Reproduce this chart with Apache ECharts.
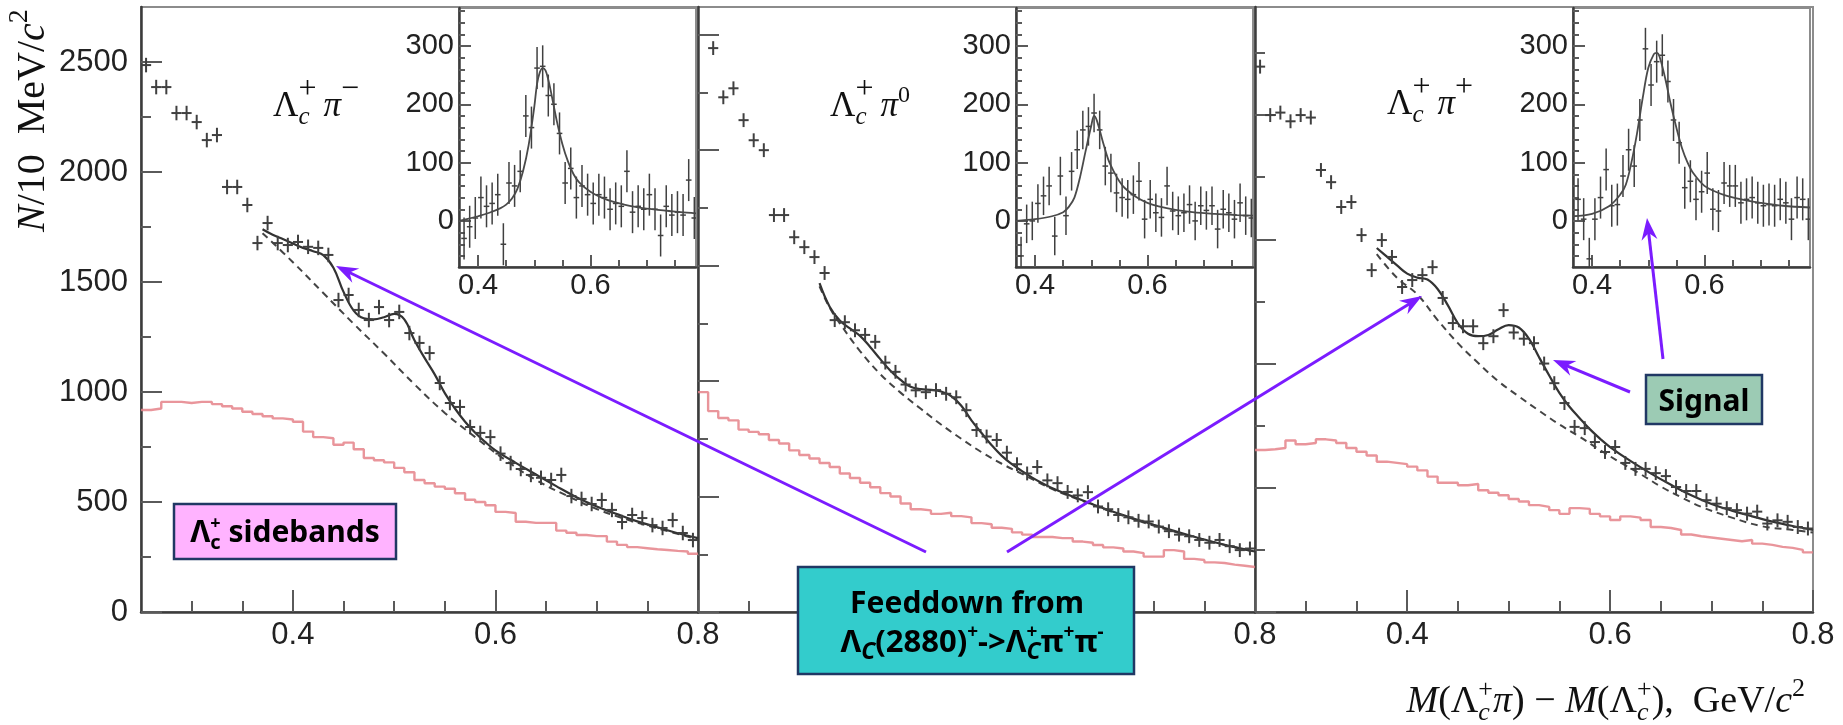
<!DOCTYPE html>
<html><head><meta charset="utf-8"><title>Lambda_c pi spectra</title>
<script src="https://cdn.jsdelivr.net/npm/echarts@6.0.0/dist/echarts.min.js"></script>
<style>html,body{margin:0;padding:0;background:#fff;}#chart{width:1843px;height:725px;}</style>
</head><body><div id="chart"></div>
<script>
// ---------------- DATA ----------------
const binStart = 0.25, binWidth = 0.01;          // main panels: 10 MeV bins
const insetBinStart = 0.37;                       // inset bins
const yTickLabels = [0, 500, 1000, 1500, 2000, 2500];
const xTickLabels = [0.4, 0.6, 0.8];
const insetYTickLabels = [0, 100, 200, 300];
const insetXTickLabels = [0.4, 0.6];
const channelSup = ['−', '0', '+'];

// data points, N / 10 MeV, bin centres 0.255 ... 0.795
const dataLm = [2486,2386,2386,2268,2268,2227,2145,2168,1932,1932,1850,1677,1768,1677,1668,1682,1660,1655,1623,1418,1441,1373,1327,1386,1327,1364,1268,1223,1177,1041,950,932,841,814,795,720,677,650,623,610,600,623,527,514,491,509,464,409,441,427,395,382,418,359,327];
const dataL0 = [null,2442,2229,2268,2130,2043,2000,1719,1719,1623,1580,1537,1468,1264,1255,1220,1200,1170,1080,1040,985,960,952,961,945,930,874,788,760,745,690,640,600,628,570,558,520,505,519,457,445,420,410,395,392,370,350,335,328,312,300,312,285,268,275];
const dataLp = [2195,2000,2010,1975,2000,1990,1779,1730,1630,1650,1517,1376,1497,1429,1308,1336,1356,1388,1264,1163,1150,1150,1082,1110,1215,1125,1100,1082,1000,921,841,745,740,684,644,664,600,576,576,559,547,503,487,487,450,436,418,410,396,404,356,369,363,342,336];

// Lambda_c sideband histograms, bins starting 0.25 ... 0.79
const sideLm = [918,925,955,955,950,955,955,945,935,925,910,900,890,880,875,865,820,795,790,760,770,740,700,690,680,655,635,600,585,570,560,540,510,500,485,455,450,410,405,405,405,370,360,350,345,345,320,305,295,290,285,282,278,275,265];
const sideL0 = [952,870,840,830,790,780,770,745,730,700,680,665,645,628,600,580,560,540,515,500,470,445,440,425,430,415,410,385,380,365,360,345,335,325,325,320,320,305,300,290,280,275,262,255,240,240,268,262,230,225,215,212,205,200,195];
const sideLp = [652,655,660,690,675,680,695,690,680,660,645,630,605,600,595,585,570,545,520,520,510,515,490,480,470,455,445,430,423,410,395,418,415,395,385,370,385,380,370,342,338,330,312,305,300,295,290,285,290,275,270,262,258,250,240];

// full fit (solid) and background (dashed) curves
const fitLm = [[0.37,1740],[0.38,1715],[0.39,1695],[0.40,1675],[0.41,1655],[0.42,1640],[0.43,1622],[0.44,1565],[0.45,1455],[0.46,1370],[0.47,1335],[0.48,1330],[0.49,1340],[0.50,1355],[0.51,1330],[0.52,1235],[0.53,1155],[0.54,1080],[0.55,995],[0.56,925],[0.57,865],[0.58,815],[0.59,772],[0.60,735],[0.62,678],[0.64,625],[0.66,572],[0.68,522],[0.70,480],[0.72,445],[0.74,412],[0.76,385],[0.78,358],[0.80,336]];
const bkgLm = [[0.37,1722],[0.40,1590],[0.43,1450],[0.46,1310],[0.49,1175],[0.52,1035],[0.55,905],[0.58,795],[0.61,690],[0.64,600],[0.67,530],[0.70,468],[0.73,420],[0.76,380],[0.80,330]];
const fitL0 = [[0.37,1424],[0.38,1322],[0.39,1262],[0.40,1228],[0.41,1196],[0.42,1148],[0.43,1095],[0.44,1045],[0.45,1005],[0.46,975],[0.47,965],[0.48,962],[0.49,955],[0.50,935],[0.51,893],[0.52,830],[0.53,775],[0.54,722],[0.55,676],[0.56,640],[0.57,610],[0.58,582],[0.59,558],[0.60,536],[0.62,500],[0.64,466],[0.66,434],[0.68,405],[0.70,378],[0.72,352],[0.74,326],[0.76,302],[0.78,281],[0.80,262]];
const bkgL0 = [[0.37,1410],[0.38,1318],[0.39,1250],[0.41,1130],[0.43,1030],[0.45,950],[0.47,880],[0.49,812],[0.51,750],[0.53,692],[0.55,642],[0.57,598],[0.60,532],[0.63,480],[0.66,432],[0.70,374],[0.74,324],[0.78,280],[0.80,262]];
const fitLp = [[0.37,1465],[0.38,1430],[0.39,1395],[0.40,1362],[0.41,1346],[0.42,1338],[0.43,1300],[0.44,1235],[0.45,1162],[0.46,1120],[0.47,1110],[0.48,1115],[0.49,1138],[0.50,1155],[0.51,1145],[0.52,1100],[0.53,1025],[0.54,952],[0.55,882],[0.56,826],[0.57,780],[0.58,736],[0.59,698],[0.60,664],[0.62,608],[0.64,558],[0.66,512],[0.68,470],[0.70,435],[0.72,408],[0.74,385],[0.76,364],[0.78,346],[0.80,330]];
const bkgLp = [[0.37,1440],[0.39,1345],[0.41,1278],[0.43,1175],[0.45,1082],[0.47,1002],[0.49,928],[0.51,868],[0.53,810],[0.55,755],[0.57,705],[0.59,652],[0.61,602],[0.63,555],[0.65,505],[0.67,462],[0.69,423],[0.72,380],[0.75,345],[0.78,330],[0.80,320]];

// insets: background-subtracted points, bin centres 0.375 ... 0.785
const insLm = [-30,-10,5,40,25,30,45,-40,65,60,85,180,160,262,265,215,200,150,65,90,40,60,45,30,45,40,20,30,25,85,15,25,20,45,20,-25,25,10,15,10,70,5];
const insL0 = [-60,-5,0,30,43,60,-26,77,9,85,122,156,162,185,156,94,82,48,40,37,45,68,3,37,14,6,60,17,9,14,28,0,26,18,26,-14,20,14,3,31,9,5];
const insLp = [37,3,-65,3,40,88,26,28,77,122,94,173,295,233,273,284,239,173,134,57,68,37,50,82,20,17,65,60,60,31,37,40,31,26,28,26,37,31,3,40,37,3];
const insFitLm = [[0.366,0],[0.38,3],[0.40,8],[0.42,14],[0.44,22],[0.45,28],[0.46,38],[0.47,55],[0.48,85],[0.49,130],[0.50,195],[0.505,235],[0.51,255],[0.515,262],[0.52,258],[0.525,242],[0.53,220],[0.54,172],[0.55,132],[0.56,102],[0.57,80],[0.58,66],[0.60,50],[0.62,40],[0.64,33],[0.66,28],[0.68,24],[0.70,21],[0.72,19],[0.74,17],[0.76,15],[0.788,13]];
const insFitL0 = [[0.366,0],[0.40,3],[0.43,8],[0.45,15],[0.46,24],[0.47,40],[0.48,75],[0.49,120],[0.50,163],[0.505,180],[0.51,172],[0.52,138],[0.53,106],[0.54,85],[0.55,68],[0.56,56],[0.58,41],[0.60,31],[0.62,25],[0.65,19],[0.68,15],[0.72,12],[0.76,10],[0.788,9]];
const insFitLp = [[0.366,8],[0.40,12],[0.43,25],[0.45,45],[0.46,62],[0.47,100],[0.48,150],[0.49,210],[0.50,262],[0.51,286],[0.515,288],[0.52,282],[0.53,245],[0.54,200],[0.55,160],[0.56,125],[0.57,100],[0.58,82],[0.60,60],[0.62,50],[0.64,43],[0.67,36],[0.70,31],[0.74,26],[0.788,23]];

// typical half-length of the error bars
const mainErr = [33, 30, 28];
const insetErr = [36, 33, 36];
// axis ranges
const yMax = [2750, 2620, 2435];
const xRange = [0.25, 0.8];
const insetXRange = [0.366, 0.788];
const insetYRange = [-79, 365];

// ---------------- LAYOUT ----------------
const panelLeft = [141, 698, 1255];
const panelWidth = [557, 557, 558];
const panelTop = 7, panelHeight = 605;
const insetOffset = 318, insetWidth = 237, insetTop = 8, insetHeight = 259;

const dataSets = [dataLm, dataL0, dataLp];
const sideSets = [sideLm, sideL0, sideLp];
const fitSets = [fitLm, fitL0, fitLp];
const bkgSets = [bkgLm, bkgL0, bkgLp];
const insSets = [insLm, insL0, insLp];
const insFitSets = [insFitLm, insFitL0, insFitLp];

const axisLineCol = '#3c3c3c', tickCol = '#5a5a5a', frameCol = '#8c8c8c';
const tickFont = 'Liberation Sans';

function xAxisDef(grid, range, ticks, len, labels, showLine, fs, margin) {
  return {
    type: 'value', gridIndex: grid, min: range[0], max: range[1], position: 'bottom',
    axisLine: { show: showLine, onZero: false, lineStyle: { color: axisLineCol, width: 2.5 } },
    axisTick: { show: true, inside: true, length: len, customValues: ticks, lineStyle: { color: tickCol, width: 2 } },
    axisLabel: labels ? { show: true, customValues: labels, formatter: v => Number(v).toFixed(1), fontFamily: tickFont, fontSize: fs, color: '#222', margin: margin } : { show: false },
    splitLine: { show: false }
  };
}
function yAxisDef(grid, range, ticks, len, labels, showLine, fs, margin) {
  return {
    type: 'value', gridIndex: grid, min: range[0], max: range[1], position: 'left',
    axisLine: { show: showLine, onZero: false, lineStyle: { color: axisLineCol, width: 2.5 } },
    axisTick: { show: true, inside: true, length: len, customValues: ticks, lineStyle: { color: tickCol, width: 2 } },
    axisLabel: labels ? { show: true, customValues: labels, formatter: v => String(v), fontFamily: tickFont, fontSize: fs, color: '#222', margin: margin } : { show: false },
    splitLine: { show: false }
  };
}

const grids = [], xAxes = [], yAxes = [], series = [];
const mainXMinor = [0.3, 0.35, 0.45, 0.5, 0.55, 0.65, 0.7, 0.75];
const mainYMinor = [250, 750, 1250, 1750, 2250];
const insXMinor = [0.45, 0.5, 0.55, 0.65, 0.7, 0.75];
const insYMinor = [-60,-40,-20,20,40,60,80,120,140,160,180,220,240,260,280,320,340,360];

function errRender(halfW, lw) {
  return function (params, api) {
    const x = api.value(0), y = api.value(1), e = api.value(2);
    const a = api.coord([x - halfW, y]), b = api.coord([x + halfW, y]);
    const c = api.coord([x, y + e]), d = api.coord([x, y - e]);
    const st = { stroke: '#404040', lineWidth: lw };
    return { type: 'group', children: [
      { type: 'line', shape: { x1: a[0], y1: a[1], x2: b[0], y2: b[1] }, style: st },
      { type: 'line', shape: { x1: c[0], y1: c[1], x2: d[0], y2: d[1] }, style: st }
    ] };
  };
}

for (let p = 0; p < 3; p++) {
  const gMain = 2 * p, gIns = 2 * p + 1;
  grids.push({ left: panelLeft[p], top: panelTop, width: panelWidth[p], height: panelHeight,
    show: true, borderColor: frameCol, borderWidth: 2, backgroundColor: 'transparent', containLabel: false, outerBoundsMode: 'none' });
  grids.push({ left: panelLeft[p] + insetOffset, top: insetTop, width: insetWidth, height: insetHeight,
    show: true, borderColor: frameCol, borderWidth: 2, backgroundColor: '#ffffff', containLabel: false, outerBoundsMode: 'none' });

  const xi = xAxes.length, yi = yAxes.length;
  xAxes.push(xAxisDef(gMain, xRange, xTickLabels, 22, xTickLabels, true, 31, 8));
  xAxes.push(xAxisDef(gMain, xRange, mainXMinor, 11, null, false));
  xAxes.push(xAxisDef(gIns, insetXRange, insetXTickLabels, 12, insetXTickLabels, true, 29, 4));
  xAxes.push(xAxisDef(gIns, insetXRange, insXMinor, 7, null, false));
  yAxes.push(yAxisDef(gMain, [0, yMax[p]], yTickLabels, 21, p === 0 ? yTickLabels : null, true, 31, 13));
  yAxes.push(yAxisDef(gMain, [0, yMax[p]], mainYMinor, 10, null, false));
  yAxes.push(yAxisDef(gIns, insetYRange, insetYTickLabels, 12, insetYTickLabels, true, 29, 5));
  yAxes.push(yAxisDef(gIns, insetYRange, insYMinor, 6, null, false));

  // sideband histogram
  const side = sideSets[p];
  const sideData = side.map((v, i) => [binStart + binWidth * i, v]);
  sideData.push([binStart + binWidth * side.length, side[side.length - 1]]);
  series.push({ type: 'line', xAxisIndex: xi, yAxisIndex: yi, data: sideData, step: 'end', showSymbol: false, symbol: 'none',
    lineStyle: { color: '#e5838a', width: 2.4, opacity: 0.85 }, z: 2, silent: true });
  // background
  series.push({ type: 'line', xAxisIndex: xi, yAxisIndex: yi, data: bkgSets[p], smooth: 0.4, showSymbol: false, symbol: 'none',
    lineStyle: { color: '#444', width: 2, type: [7, 5] }, z: 3, silent: true });
  // full fit
  series.push({ type: 'line', xAxisIndex: xi, yAxisIndex: yi, data: fitSets[p], smooth: 0.4, showSymbol: false, symbol: 'none',
    lineStyle: { color: '#333', width: 2.2 }, z: 4, silent: true });
  // data points
  const pts = [];
  dataSets[p].forEach((v, i) => { if (v !== null) pts.push([binStart + binWidth * (i + 0.5), v, mainErr[p]]); });
  series.push({ type: 'custom', coordinateSystem: 'cartesian2d', xAxisIndex: xi, yAxisIndex: yi, data: pts,
    encode: { x: 0, y: 1 }, renderItem: errRender(binWidth / 2, 2), clip: true, z: 5, silent: true });

  // inset
  const ipts = insSets[p].map((v, i) => [insetBinStart + binWidth * (i + 0.5), v, insetErr[p]]);
  series.push({ type: 'custom', coordinateSystem: 'cartesian2d', xAxisIndex: xi + 2, yAxisIndex: yi + 2, data: ipts,
    encode: { x: 0, y: 1 }, renderItem: errRender(binWidth / 2, 1.5), clip: true, z: 5, silent: true });
  series.push({ type: 'line', xAxisIndex: xi + 2, yAxisIndex: yi + 2, data: insFitSets[p], smooth: 0.35, showSymbol: false, symbol: 'none',
    lineStyle: { color: '#4a4a4a', width: 1.8 }, z: 6, silent: true });
}

// ---------------- TEXT / ANNOTATIONS ----------------
const mctx = document.createElement('canvas').getContext('2d');
function fstr(q) { return (q.italic ? 'italic ' : '') + (q.bold ? 'bold ' : '') + q.size + 'px ' + q.family; }
function tw(q) { mctx.font = fstr(q); return mctx.measureText(q.t).width; }
function midOff(q) { mctx.font = fstr(q); mctx.textBaseline = 'middle'; const d = mctx.measureText('H').actualBoundingBoxDescent; mctx.textBaseline = 'alphabetic'; return d; }
function compose(pieces, base, x0, baseline, align, color) {
  let x = 0; const items = [];
  pieces.forEach(pc => {
    const grp = pc.stack ? pc.stack : [pc];
    let w = 0;
    grp.forEach(s => { const q = Object.assign({}, base, s); items.push({ q, x }); w = Math.max(w, tw(q)); });
    x += w;
  });
  const off = align === 'center' ? -x / 2 : (align === 'right' ? -x : 0);
  return items.map(({ q, x: xx }) => ({
    type: 'text', x: x0 + off + xx, y: baseline - (q.rise || 0) - midOff(q), z: 120,
    style: { text: q.t, font: fstr(q), fill: color || '#111', align: 'left', verticalAlign: 'middle', textAlign: 'left', textVerticalAlign: 'middle' }
  }));
}

const serif = 'Liberation Serif';
const boxFont = "'Comic Sans MS', 'Noto Sans', sans-serif";
const graphics = [];

// channel titles
for (let p = 0; p < 3; p++) {
  const sup = channelSup[p];
  const supPiece = sup === '0' ? { t: '0', size: 24, rise: 14 } : { t: sup, size: 32, rise: 18 };
  compose([
    { t: 'Λ' },
    { stack: [{ t: '+', size: 32, rise: 18 }, { t: 'c', size: 25, italic: true, rise: -8 }] },
    { t: '\u2009π', italic: true }, supPiece
  ], { family: serif, size: 35 }, panelLeft[p] + 132, p === 2 ? 114 : 116, 'left', '#111').forEach(e => graphics.push(e));
}

// y-axis title (rotated)
graphics.push({ type: 'group', x: 44, y: 232, rotation: Math.PI / 2, z: 120,
  children: compose([{ t: 'N', italic: true }, { t: '/10  MeV/' }, { t: 'c', italic: true }, { t: '2', size: 28, rise: 17 }],
    { family: serif, size: 40 }, 0, 0, 'left', '#111') });

// x-axis title
compose([
  { t: 'M', italic: true }, { t: '(Λ' },
  { stack: [{ t: '+', size: 26, rise: 15 }, { t: 'c', size: 26, italic: true, rise: -8 }] },
  { t: 'π', italic: true }, { t: ') − ' }, { t: 'M', italic: true }, { t: '(Λ' },
  { stack: [{ t: '+', size: 26, rise: 15 }, { t: 'c', size: 26, italic: true, rise: -8 }] },
  { t: '),  GeV/' }, { t: 'c', italic: true }, { t: '2', size: 26, rise: 16 }
], { family: serif, size: 38 }, 1805, 712, 'right', '#111').forEach(e => graphics.push(e));

// arrows
const violet = '#7b1cff';
const arrows = [[926, 552, 336, 266], [1007, 552, 1422, 296], [1630, 392, 1553, 360], [1663, 359, 1647, 218]];
arrows.forEach(([x1, y1, x2, y2]) => {
  const L = Math.hypot(x2 - x1, y2 - y1), ux = (x2 - x1) / L, uy = (y2 - y1) / L, nx = -uy, ny = ux;
  const hl = 22, hw = 8, notch = 7;
  graphics.push({ type: 'line', z: 105, shape: { x1, y1, x2: x2 - ux * 8, y2: y2 - uy * 8 }, style: { stroke: violet, lineWidth: 3 } });
  graphics.push({ type: 'polygon', z: 106, shape: { points: [
    [x2, y2], [x2 - ux * hl + nx * hw, y2 - uy * hl + ny * hw], [x2 - ux * (hl - notch), y2 - uy * (hl - notch)], [x2 - ux * hl - nx * hw, y2 - uy * hl - ny * hw]
  ] }, style: { fill: violet } });
});

// boxes
const boxStroke = '#203864';
graphics.push({ type: 'rect', z: 110, shape: { x: 174, y: 504, width: 222, height: 55 }, style: { fill: '#ffb3ff', stroke: boxStroke, lineWidth: 2.5 } });
compose([{ t: 'Λ' }, { stack: [{ t: '+', size: 18, rise: 13 }, { t: 'c', size: 20, rise: -7 }] }, { t: ' sidebands' }],
  { family: boxFont, size: 30, bold: true }, 285, 542, 'center', '#000').forEach(e => graphics.push(e));

graphics.push({ type: 'rect', z: 110, shape: { x: 798, y: 567, width: 336, height: 107 }, style: { fill: '#33cccc', stroke: boxStroke, lineWidth: 2.5 } });
compose([{ t: 'Feeddown from' }], { family: boxFont, size: 30, bold: true }, 967, 613, 'center', '#000').forEach(e => graphics.push(e));
compose([
  { t: 'Λ' }, { t: 'C', size: 23, italic: true, rise: -7 }, { t: '(2880)' }, { t: '+', size: 19, rise: 14 }, { t: '->Λ' },
  { stack: [{ t: '+', size: 19, rise: 14 }, { t: 'C', size: 23, italic: true, rise: -7 }] },
  { t: 'π' }, { t: '+', size: 19, rise: 14 }, { t: 'π' }, { t: '-', size: 19, rise: 14 }
], { family: boxFont, size: 31, bold: true }, 972, 652, 'center', '#000').forEach(e => graphics.push(e));

graphics.push({ type: 'rect', z: 110, shape: { x: 1646, y: 375, width: 116, height: 49 }, style: { fill: '#9ccbb4', stroke: boxStroke, lineWidth: 2.5 } });
compose([{ t: 'Signal' }], { family: boxFont, size: 30, bold: true }, 1704, 411, 'center', '#000').forEach(e => graphics.push(e));

const chart = echarts.init(document.getElementById('chart'), null, { renderer: 'canvas', width: 1843, height: 725 });
chart.setOption({
  animation: false,
  backgroundColor: '#ffffff',
  grid: grids, xAxis: xAxes, yAxis: yAxes, series: series,
  graphic: { elements: graphics }
});
</script></body></html>
